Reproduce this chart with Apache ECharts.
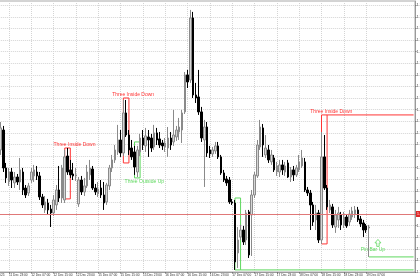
<!DOCTYPE html>
<html><head><meta charset="utf-8">
<script src="https://cdn.jsdelivr.net/npm/echarts@6/dist/echarts.min.js"></script>
<style>html,body{margin:0;padding:0;background:#fff}#c{width:420px;height:280px}</style>
</head><body><div id="c"></div>
<script>
// Hourly bars, 11 Dec 20:00 .. 19 Dec 08:00 (visible part)
const opens = [
1.17552,1.17724,1.17397,1.17276,1.17362,1.17268,1.17319,1.17276,1.17362,1.17224,
1.17181,1.17293,1.17328,1.17362,1.17328,1.17147,1.17035,1.17095,1.17043,1.17009,
1.17078,1.17207,1.17138,1.17121,1.17500,1.17380,1.17345,1.17328,1.17087,1.17293,
1.17190,1.17242,1.17337,1.17388,1.17224,1.17173,1.17224,1.17164,1.17104,1.17242,
1.17397,1.17466,1.17535,1.17638,1.17526,1.17871,1.17681,1.17569,1.17535,1.17362,
1.17535,1.17655,1.17587,1.17664,1.17655,1.17578,1.17699,1.17647,1.17612,1.17578,
1.17569,1.17655,1.17621,1.17664,1.17707,1.17724,1.17880,1.18199,1.18155,1.18690,
1.18026,1.18009,1.17880,1.17638,1.17750,1.17552,1.17518,1.17543,1.17587,1.17492,
1.17354,1.17302,1.17293,1.17104,1.17095,1.16664,1.16802,1.16862,1.16776,1.17018,
1.16992,1.17164,1.17328,1.17578,1.17742,1.17509,1.17552,1.17449,1.17483,1.17362,
1.17362,1.17423,1.17362,1.17440,1.17319,1.17380,1.17337,1.17380,1.17414,1.17449,
1.17207,1.17181,1.17078,1.16949,1.17009,1.16776,1.17492,1.17224,1.17035,1.17061,
1.16888,1.16949,1.16992,1.16906,1.16974,1.16931,1.16974,1.17000,1.17035,1.16957,
1.16923,1.16897,1.16880];
const closes = [
1.17742,1.17397,1.17311,1.17362,1.17293,1.17319,1.17276,1.17380,1.17207,1.17164,
1.17242,1.17362,1.17380,1.17328,1.17147,1.17078,1.17104,1.17035,1.17009,1.17121,
1.17207,1.17138,1.17397,1.17492,1.17362,1.17337,1.17328,1.17337,1.17293,1.17190,
1.17242,1.17362,1.17397,1.17224,1.17190,1.17216,1.17164,1.17095,1.17250,1.17397,
1.17466,1.17552,1.17638,1.17526,1.17871,1.17681,1.17552,1.17492,1.17405,1.17552,
1.17655,1.17595,1.17673,1.17638,1.17569,1.17699,1.17638,1.17595,1.17587,1.17612,
1.17655,1.17595,1.17681,1.17724,1.17750,1.17871,1.18199,1.18138,1.18690,1.18026,
1.18000,1.17880,1.17655,1.17750,1.17526,1.17518,1.17552,1.17587,1.17492,1.17354,
1.17293,1.17268,1.17104,1.17095,1.16587,1.16776,1.16862,1.16759,1.17009,1.16647,
1.17164,1.17337,1.17595,1.17750,1.17595,1.17569,1.17466,1.17509,1.17380,1.17414,
1.17423,1.17380,1.17414,1.17319,1.17380,1.17337,1.17397,1.17449,1.17483,1.17207,
1.17181,1.17078,1.16931,1.17009,1.16776,1.17492,1.17224,1.17061,1.17078,1.16906,
1.16992,1.17009,1.16906,1.16974,1.16897,1.17000,1.17026,1.17035,1.16949,1.16914,
1.16862,1.16862,1.16888];
const lows = [
1.17509,1.17362,1.17268,1.17242,1.17224,1.17224,1.17250,1.17207,1.17164,1.17138,
1.17155,1.17268,1.17276,1.17293,1.17121,1.17052,1.17009,1.16992,1.16888,1.16983,
1.17035,1.17104,1.17095,1.17095,1.17337,1.17311,1.17293,1.17285,1.17061,1.17164,
1.17155,1.17224,1.17293,1.17207,1.17164,1.17147,1.17138,1.17035,1.17078,1.17207,
1.17362,1.17440,1.17509,1.17492,1.17500,1.17664,1.17509,1.17466,1.17337,1.17319,
1.17500,1.17552,1.17535,1.17492,1.17535,1.17552,1.17595,1.17569,1.17552,1.17535,
1.17492,1.17552,1.17587,1.17630,1.17638,1.17612,1.17862,1.18086,1.18130,1.18000,
1.17957,1.17854,1.17621,1.17233,1.17492,1.17483,1.17492,1.17518,1.17474,1.17337,
1.17276,1.17242,1.17087,1.17078,1.16518,1.16535,1.16776,1.16733,1.16733,1.16621,
1.16638,1.17138,1.17311,1.17552,1.17492,1.17483,1.17440,1.17423,1.17362,1.17328,
1.17319,1.17337,1.17328,1.17311,1.17276,1.17285,1.17319,1.17362,1.17397,1.17190,
1.17155,1.16862,1.16897,1.16862,1.16750,1.16742,1.17207,1.17035,1.17009,1.16880,
1.16837,1.16880,1.16862,1.16880,1.16880,1.16897,1.16949,1.16966,1.16931,1.16888,
1.16802,1.16837,1.16630];
const highs = [
1.17793,1.17759,1.17440,1.17397,1.17397,1.17362,1.17345,1.17483,1.17397,1.17250,
1.17268,1.17397,1.17423,1.17414,1.17362,1.17173,1.17155,1.17130,1.17078,1.17164,
1.17250,1.17414,1.17423,1.17552,1.17569,1.17466,1.17440,1.17397,1.17319,1.17328,
1.17311,1.17423,1.17466,1.17414,1.17259,1.17276,1.17293,1.17276,1.17268,1.17423,
1.17509,1.17595,1.17768,1.17724,1.17983,1.17983,1.17724,1.17638,1.17587,1.17587,
1.17690,1.17724,1.17742,1.17724,1.17690,1.17768,1.17742,1.17707,1.17638,1.17655,
1.17750,1.17707,1.17897,1.17759,1.17828,1.17897,1.18224,1.18242,1.18759,1.18742,
1.18130,1.18242,1.17923,1.17811,1.17793,1.17587,1.17578,1.17621,1.17621,1.17509,
1.17380,1.17328,1.17319,1.17130,1.17121,1.16888,1.16906,1.16897,1.17035,1.17035,
1.17207,1.17362,1.17638,1.17811,1.17776,1.17681,1.17595,1.17552,1.17509,1.17449,
1.17466,1.17466,1.17449,1.17466,1.17405,1.17414,1.17423,1.17509,1.17552,1.17483,
1.17233,1.17207,1.17104,1.17078,1.17035,1.17707,1.17681,1.17250,1.17121,1.17087,
1.17035,1.17061,1.17018,1.17018,1.17000,1.17035,1.17061,1.17069,1.17061,1.16983,
1.16949,1.16914,1.16906];

const tickLabels = ['11 Dec 2025','11 Dec 23:00','12 Dec 07:00','12 Dec 15:00','12 Dec 23:00',
  '15 Dec 07:00','15 Dec 15:00','15 Dec 23:00','16 Dec 07:00','16 Dec 15:00','16 Dec 23:00',
  '17 Dec 07:00','17 Dec 15:00','17 Dec 23:00','18 Dec 07:00','18 Dec 15:00','18 Dec 23:00','19 Dec 07:00'];

// pattern boxes: first bar, last bar, top price, bottom price
const boxFrom   = [23, 44, 48, 84, 115];
const boxTo     = [25, 46, 50, 86, 117];
const boxTop    = [1.17569, 1.18000, 1.17621, 1.17138, 1.17854];
const boxBottom = [1.17130, 1.17440, 1.17311, 1.16518, 1.16742];
const boxKind   = ['down', 'down', 'up', 'up', 'down'];
const boxText   = ['Three Inside Down', 'Three Inside Down', 'Three Outside Up', '', 'Three Inside Down'];
const bidPrice = 1.16888;
const pinBarIndex = 132;
const pinBarLow = 1.16630;

// categories: hourly, skipping weekend, starting 11 Dec 15:00 (5 bars off-screen on the left)
const PHANTOM = 5, TOTAL = 154;
const months = ['Jan','Feb','Mar','Apr','May','Jun','Jul','Aug','Sep','Oct','Nov','Dec'];
const categories = [];
for (let t = Date.UTC(2025, 11, 11, 15); categories.length < TOTAL; t += 3600000) {
  const d = new Date(t), wd = d.getUTCDay();
  if (wd === 0 || wd === 6) continue;
  categories.push(d.getUTCDate() + ' ' + months[d.getUTCMonth()] + ' ' + String(d.getUTCHours()).padStart(2,'0') + ':00');
}
const bars = [];
for (let j = 0; j < TOTAL; j++) {
  const i = j - PHANTOM;
  bars.push(i >= 0 && i < opens.length ? [opens[i], closes[i], lows[i], highs[i]] : '-');
}
const cat = i => categories[i + PHANTOM];
const lastCat = categories[TOTAL - 1];
const isTick = (i) => i % 8 === 0 && i / 8 < tickLabels.length;

const RED = '#ff3434', GREEN = '#5fd85f';
const areas = [], points = [];
boxFrom.forEach((f, k) => {
  const col = boxKind[k] === 'down' ? RED : GREEN;
  areas.push([{xAxis: cat(f), yAxis: boxTop[k], itemStyle: {color: 'rgba(0,0,0,0)', borderColor: col, borderWidth: 1}},
              {xAxis: cat(boxTo[k]), yAxis: boxBottom[k]}]);
  if (boxText[k]) {
    const mid = cat(Math.round((f + boxTo[k]) / 2));
    const down = boxKind[k] === 'down';
    points.push({coord: [mid, down ? boxTop[k] : boxBottom[k]], symbol: 'circle', symbolSize: 1,
      itemStyle: {color: 'rgba(0,0,0,0)'},
      label: {show: true, formatter: boxText[k], color: col, fontSize: 5, fontFamily: 'Liberation Sans',
        position: 'inside', offset: [7, down ? -3.5 : 3.5]}});
  }
});
points.push({coord: [cat(pinBarIndex), pinBarLow], symbol: 'circle', symbolSize: 1, itemStyle: {color: 'rgba(0,0,0,0)'},
  label: {show: true, formatter: 'Pin Bar Up', color: GREEN, fontSize: 5, fontFamily: 'Liberation Sans', position: 'inside', offset: [4, -7]}});
points.push({coord: [cat(pinBarIndex), pinBarLow],
  symbol: 'path://M5 0 L10 5 L7 5 L7 10 L3 10 L3 5 L0 5 Z', symbolSize: [6, 7], symbolOffset: [9, -14],
  itemStyle: {color: '#fff', borderColor: GREEN, borderWidth: 0.8}, label: {show: false}});

// horizontal extension lines drawn as small line series
const ext = (x0, y, col) => ({
  type: 'line', silent: true, symbol: 'none', animation: false, z: 3,
  lineStyle: {color: col, width: 1, type: 'solid'},
  data: [[x0, y], [lastCat, y]]
});

const chart = echarts.init(document.getElementById('c'));
chart.setOption({
  animation: false,
  backgroundColor: '#fff',
  grid: {left: -14.8, right: 5, top: 1, bottom: 8, show: true, borderColor: '#a8a8a8', borderWidth: 1,
    containLabel: false, outerBoundsMode: 'none'},
  xAxis: {
    type: 'category', data: categories, boundaryGap: true,
    axisLine: {lineStyle: {color: '#9a9a9a'}},
    axisTick: {show: true, interval: isTick, alignWithLabel: true, length: 1.5, lineStyle: {color: '#777'}},
    axisLabel: {show: true, interval: isTick, formatter: (v, i) => tickLabels[i / 8] || '',
      fontSize: 3.2, color: '#333', align: 'left', margin: 1.5, fontFamily: 'Liberation Sans'},
    splitLine: {show: true, interval: isTick, alignWithLabel: true, lineStyle: {color: '#d4d4d4', type: 'dotted', width: 1}}
  },
  yAxis: {
    type: 'value', position: 'right', min: 1.165, max: 1.18836, interval: 0.001,
    axisLine: {show: true, lineStyle: {color: '#9a9a9a'}},
    axisTick: {show: true, length: 1.5, lineStyle: {color: '#777'}},
    axisLabel: {fontSize: 3.5, color: '#333', margin: 1.5, showMaxLabel: false, fontFamily: 'Liberation Sans',
      formatter: v => v.toFixed(4)},
    splitLine: {show: true, lineStyle: {color: '#d4d4d4', type: 'dotted', width: 1}}
  },
  series: [{
    type: 'candlestick', data: bars, barWidth: 2,
    itemStyle: {color: '#d6d6d6', color0: '#000', borderColor: '#8a8a8a', borderColor0: '#000', borderWidth: 1},
    markArea: {silent: true, data: areas},
    markLine: {silent: true, symbol: ['none', 'none'], data: [
      {yAxis: bidPrice, lineStyle: {color: '#e07878', width: 1, type: 'solid'},
       label: {show: true, position: 'end', formatter: bidPrice.toFixed(5), backgroundColor: '#e02828', color: '#fff',
         fontSize: 3.5, padding: [1, 1], distance: 1}}]},
    markPoint: {silent: true, data: points}
  },
  ext(cat(boxTo[4]), boxTop[4], RED),
  ext(cat(boxTo[3]), boxBottom[3], GREEN),
  ext(cat(pinBarIndex), pinBarLow, GREEN)
  ]
});
</script></body></html>
